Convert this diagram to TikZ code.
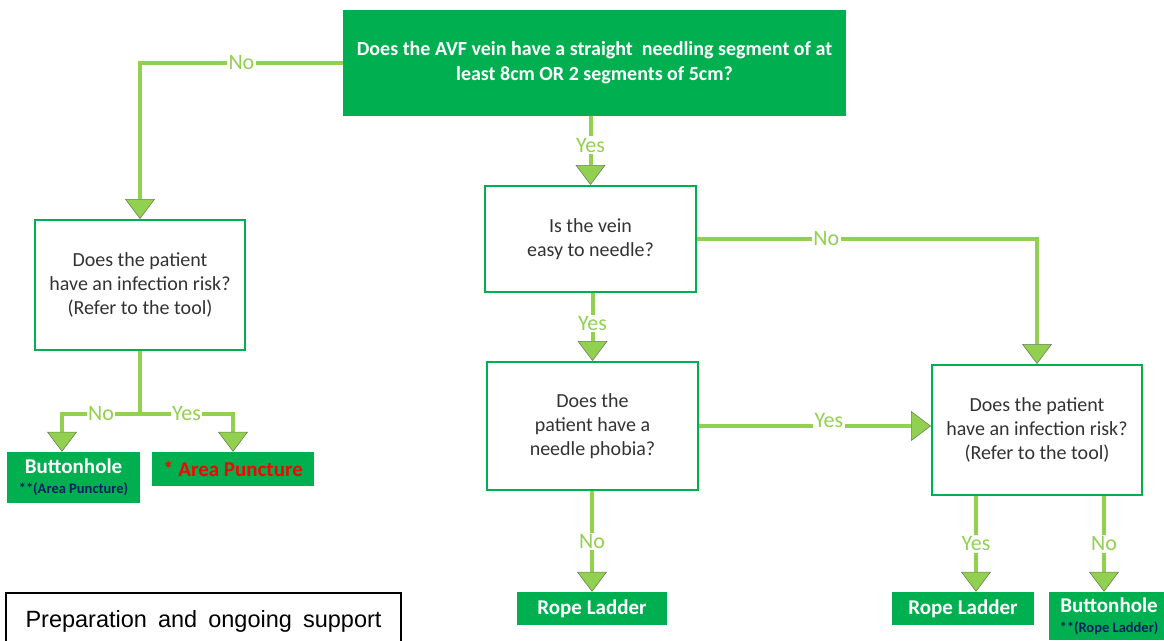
\documentclass[tikz,border=0pt]{standalone}
\usepackage{fontspec}
\setmainfont{Carlito}
\newfontfamily\arialfont{Liberation Sans}
\usepackage{xcolor}
\usetikzlibrary{arrows.meta}
\definecolor{boxgreen}{HTML}{00B050}
\definecolor{linegreen}{HTML}{92D050}
\definecolor{tipgray}{HTML}{6B7F58}
\definecolor{navy}{HTML}{002060}
\tikzstyle{question} = [rectangle, draw=boxgreen, line width=2pt, fill=white, align=center, text=black!80, font=\fontsize{20}{24}\selectfont]
\tikzstyle{outcome} = [rectangle, fill=boxgreen, align=center, text=white, inner sep=2pt, font=\bfseries\fontsize{21}{22}\selectfont]
\tikzstyle{prep} = [rectangle, draw=black, line width=2pt, fill=white, inner xsep=14pt, inner ysep=17pt, text depth=50pt, font=\arialfont\fontsize{23.5}{28}\selectfont]
\tikzset{
  arrow/.style={line width=4pt, draw=linegreen,
    -{Triangle[length=20pt, width=30pt, fill=linegreen, color=tipgray, line width=0.6pt]}},
  plain/.style={line width=4pt, draw=linegreen},
  ans/.style={fill=white, text=linegreen, inner sep=1.5pt, font=\fontsize{22}{24}\selectfont},
}

\begin{document}
\begin{tikzpicture}[x=1pt, y=-1pt]
\useasboundingbox (0,0) rectangle (1164,640);
\clip (0,0) rectangle (1164,640);

\node (topq) [outcome, minimum width=503pt, minimum height=106pt, font=\bfseries\fontsize{20}{25}\selectfont] at (594.5,63) {Does the AVF vein have a straight\ \ needling segment of at\\least 8cm OR 2 segments of 5cm?};
\node (infl) [question, minimum width=210pt, minimum height=130pt] at (140,285) {Does the patient\\have an infection risk?\\(Refer to the tool)};
\node (btn1) [outcome, minimum width=133pt, minimum height=51pt] at (73.5,477.5) {Buttonhole\\[-2pt]{\color{navy}\fontsize{14.5}{16}\selectfont **(Area Puncture)}};
\node (area) [outcome, minimum width=162pt, minimum height=34pt, text=red] at (233,469) {* Area Puncture};
\node (easy) [question, minimum width=211pt, minimum height=106pt] at (590.5,239) {Is the vein\\easy to needle?};
\node (phobia) [question, minimum width=211pt, minimum height=128pt] at (592.5,426) {Does the\\patient have a\\needle phobia?};
\node (infr) [question, minimum width=210pt, minimum height=130pt] at (1037,430) {Does the patient\\have an infection risk?\\(Refer to the tool)};
\node (rope1) [outcome, minimum width=150pt, minimum height=33pt] at (592,608.5) {Rope Ladder};
\node (rope2) [outcome, minimum width=142pt, minimum height=33pt] at (963,608.5) {Rope Ladder};
\node (btn2) [outcome, minimum width=120pt, minimum height=48pt] at (1109,616) {Buttonhole\\[-2pt]{\color{navy}\fontsize{14.5}{16}\selectfont **(Rope Ladder)}};
\node (note) [prep, anchor=north west, minimum width=395pt] at (5,592) {\makebox[356pt][s]{Preparation and ongoing support}};

\draw [arrow] (topq.west) -| node[ans, pos=0.25] {No} (infl.north);
\draw [plain] (infl.south) -- ++(0,63) coordinate (fork);
\draw [arrow] (fork) -| node[ans, pos=0.25] {No} ([xshift=-11.5pt]btn1.north);
\draw [arrow] (fork) -| node[ans, pos=0.25] {Yes} (area.north);
\draw [arrow] (topq.south -| easy.north) -- node[ans, pos=0.42] {Yes} (easy.north);
\draw [arrow] (easy.east) -| node[ans, pos=0.19] {No} (infr.north);
\draw [arrow] (easy.south -| phobia.north) -- node[ans, pos=0.45] {Yes} (phobia.north);
\draw [arrow] (phobia.east) -- node[ans, pos=0.56, yshift=5pt] {Yes} (phobia.east -| infr.west);
\draw [arrow] (phobia.south -| rope1.north) -- node[ans] {No} (rope1.north);
\draw [arrow] ([xshift=13pt]rope2.north |- infr.south) -- node[ans] {Yes} ([xshift=13pt]rope2.north);
\draw [arrow] ([xshift=-5pt]btn2.north |- infr.south) -- node[ans] {No} ([xshift=-5pt]btn2.north);

\end{tikzpicture}
\end{document}
